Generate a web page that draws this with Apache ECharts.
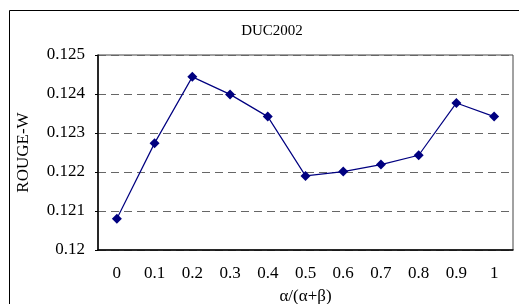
<!DOCTYPE html>
<html>
<head>
<meta charset="utf-8">
<script src="https://cdn.jsdelivr.net/npm/echarts@6/dist/echarts.min.js"></script>
<style>
  html, body { margin: 0; padding: 0; background: #fff; }
  #chart { width: 519px; height: 304px; }
</style>
</head>
<body>
<div id="chart"></div>
<script>
const ratios = ["0", "0.1", "0.2", "0.3", "0.4", "0.5", "0.6", "0.7", "0.8", "0.9", "1"];
const rougeW = [0.12080, 0.12274, 0.12444, 0.12399, 0.12342, 0.12190, 0.12201, 0.12219, 0.12243, 0.12377, 0.12342];

const chart = echarts.init(document.getElementById("chart"));
const font = "'Liberation Serif', 'DejaVu Serif', serif";

const options = {
  animation: false,
  title: {
    text: "DUC2002",
    left: 267,
    textAlign: "center",
    top: 19,
    textStyle: { fontFamily: font, fontSize: 15, fontWeight: "normal", color: "#000" },
  },
  // outer frame, right and bottom edges fall outside the picture
  graphic: [
    {
      type: "rect",
      shape: { x: 9.5, y: 10.5, width: 600, height: 400 },
      style: { fill: "none", stroke: "#000", lineWidth: 1 },
      silent: true,
    },
  ],
  grid: {
    left: 98,
    right: 6,
    top: 55,
    bottom: 54,
    outerBoundsMode: "none",
    containLabel: false,
    show: true,
    borderColor: "#444",
    borderWidth: 1,
  },
  xAxis: {
    type: "category",
    data: ratios,
    boundaryGap: true,
    name: "α/(α+β)",
    nameLocation: "middle",
    nameGap: 38,
    nameTextStyle: { fontFamily: font, fontSize: 17, color: "#000" },
    axisLine: { lineStyle: { color: "#000", width: 1.5 } },
    axisTick: { inside: true, length: 4, lineStyle: { color: "#000" } },
    axisLabel: { fontFamily: font, fontSize: 17, color: "#000", margin: 15 },
    splitLine: { show: false },
  },
  yAxis: {
    type: "value",
    min: 0.12,
    max: 0.125,
    interval: 0.001,
    name: "ROUGE-W",
    nameLocation: "middle",
    nameGap: 66,
    nameTextStyle: { fontFamily: font, fontSize: 17, color: "#000" },
    axisLine: { show: true, lineStyle: { color: "#000", width: 1.5 } },
    axisTick: { show: true, length: 3, lineStyle: { color: "#000" } },
    axisLabel: { fontFamily: font, fontSize: 17, color: "#000", margin: 13 },
    splitLine: {
      show: true,
      lineStyle: { color: "#666", width: 1, type: [8, 5] },
    },
  },
  series: [
    {
      name: "ROUGE-W",
      type: "line",
      data: rougeW,
      symbol: "diamond",
      symbolSize: 10,
      itemStyle: { color: "#000080" },
      lineStyle: { color: "#000080", width: 1.2 },
    },
  ],
};

chart.setOption(options);
</script>
</body>
</html>
